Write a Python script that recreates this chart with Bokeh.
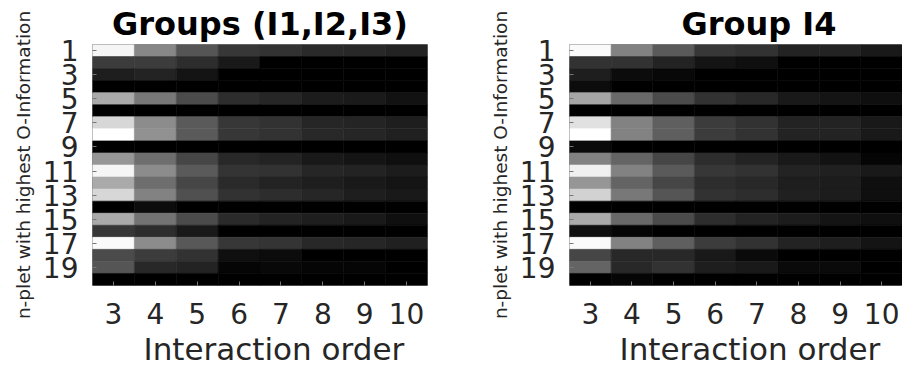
from bokeh.plotting import figure
from bokeh.layouts import row
from bokeh.models import (ColumnDataSource, LinearColorMapper, Range1d, FixedTicker, Title)
from bokeh.transform import transform
from bokeh.embed import file_html
from bokeh.resources import INLINE

# ---- data ---------------------------------------------------------------
orders = [3, 4, 5, 6, 7, 8, 9, 10]
nplets = list(range(1, 21))
ytick_labels = [1, 3, 5, 7, 9, 11, 13, 15, 17, 19]

# relative O-information (grey level 0..255), one row per n-plet, columns = orders 3..10
groups_i123 = [
    [245, 135, 85, 55, 50, 42, 40, 35],
    [60, 60, 45, 25, 0, 0, 0, 0],
    [30, 35, 20, 0, 0, 0, 0, 0],
    [0, 0, 0, 0, 0, 0, 0, 0],
    [170, 120, 75, 45, 38, 28, 26, 18],
    [0, 0, 0, 0, 0, 0, 0, 0],
    [215, 140, 90, 55, 50, 38, 36, 30],
    [255, 145, 90, 55, 50, 40, 38, 32],
    [0, 0, 0, 0, 0, 0, 0, 0],
    [150, 110, 70, 40, 35, 25, 20, 15],
    [245, 140, 90, 52, 50, 38, 35, 28],
    [170, 110, 70, 42, 35, 30, 25, 20],
    [215, 130, 80, 50, 45, 38, 30, 25],
    [0, 12, 0, 0, 0, 0, 0, 0],
    [170, 115, 75, 42, 35, 30, 25, 15],
    [55, 45, 25, 0, 0, 0, 0, 0],
    [250, 140, 88, 55, 52, 40, 38, 32],
    [75, 60, 50, 15, 12, 0, 0, 0],
    [85, 40, 35, 5, 8, 5, 5, 0],
    [0, 0, 0, 0, 0, 0, 0, 0],
]

group_i4 = [
    [250, 130, 90, 55, 50, 35, 35, 25],
    [50, 50, 35, 20, 15, 0, 0, 0],
    [30, 12, 8, 0, 0, 0, 0, 0],
    [12, 0, 0, 0, 0, 0, 0, 0],
    [165, 105, 75, 50, 40, 25, 20, 15],
    [0, 0, 0, 0, 0, 0, 0, 0],
    [225, 130, 95, 60, 50, 35, 35, 25],
    [255, 130, 95, 60, 50, 35, 35, 25],
    [10, 0, 0, 0, 0, 0, 0, 0],
    [130, 100, 70, 45, 35, 25, 18, 5],
    [240, 130, 90, 55, 50, 35, 32, 25],
    [150, 100, 70, 45, 40, 30, 28, 15],
    [210, 120, 85, 50, 45, 32, 28, 15],
    [0, 0, 0, 0, 0, 0, 0, 0],
    [170, 105, 75, 45, 35, 28, 20, 15],
    [15, 5, 0, 0, 0, 0, 0, 0],
    [250, 130, 95, 60, 50, 35, 30, 20],
    [70, 40, 40, 25, 10, 0, 0, 0],
    [100, 40, 50, 30, 25, 10, 10, 0],
    [0, 5, 0, 0, 0, 0, 0, 0],
]

FONT = "DejaVu Sans"
TXT = "#262626"
palette = ["#%02x%02x%02x" % (i, i, i) for i in range(256)]


def make_panel(title, values, width, border_left, border_right,
               title_align, title_offset, xlabel_offset):
    xs, ys, vs = [], [], []
    for r, n in enumerate(nplets):
        for c, o in enumerate(orders):
            xs.append(o)
            ys.append(n)
            vs.append(values[r][c])
    src = ColumnDataSource(dict(x=xs, y=ys, v=vs))
    mapper = LinearColorMapper(palette=palette, low=0, high=255)

    p = figure(width=width, height=369, output_backend="svg", toolbar_location=None,
               x_range=Range1d(2.5, 10.5), y_range=Range1d(20.5, 0.5),
               min_border_left=border_left, min_border_right=border_right,
               min_border_top=44, min_border_bottom=84,
               y_axis_label="n-plet with highest O-Information")
    p.title = Title(text=title, align=title_align, text_font=FONT, text_font_size="32px",
                    text_font_style="bold", text_color="#000000", standoff=4,
                    offset=title_offset)
    p.add_layout(Title(text="Interaction order", align="left", text_font=FONT,
                       text_font_size="31px", text_font_style="normal", text_color=TXT,
                       standoff=4, offset=xlabel_offset), "below")
    p.rect(x="x", y="y", width=1, height=1, source=src,
           fill_color=transform("v", mapper), line_color=transform("v", mapper),
           line_width=0.6)
    p.grid.visible = False
    p.background_fill_color = "white"
    p.outline_line_color = "#8a8a8a"
    p.outline_line_width = 1

    xa = p.xaxis[0]
    xa.ticker = FixedTicker(ticks=orders)
    xa.major_label_text_font = FONT
    xa.major_label_text_font_size = "28px"
    xa.major_label_text_color = TXT
    xa.major_label_standoff = 17

    ya = p.yaxis[0]
    ya.ticker = FixedTicker(ticks=ytick_labels)
    ya.major_label_text_font = FONT
    ya.major_label_text_font_size = "28px"
    ya.major_label_text_color = TXT
    ya.major_label_standoff = 14
    ya.axis_label_text_font = FONT
    ya.axis_label_text_font_size = "18.5px"
    ya.axis_label_text_font_style = "normal"
    ya.axis_label_text_color = TXT
    ya.axis_label_standoff = 6

    for ax in (xa, ya):
        ax.axis_line_color = None
        ax.major_tick_in = 4
        ax.major_tick_out = 0
        ax.major_tick_line_color = "#777777"
        ax.minor_tick_line_color = None

    return p


p1 = make_panel("Groups (I1,I2,I3)", groups_i123, 480, 92, 53, "center", 0, 51)
p2 = make_panel("Group I4", group_i4, 422, 89, 0, "left", 112, 50)

layout = row(p1, p2, spacing=0)
open("out.html", "w").write(file_html(layout, INLINE))
